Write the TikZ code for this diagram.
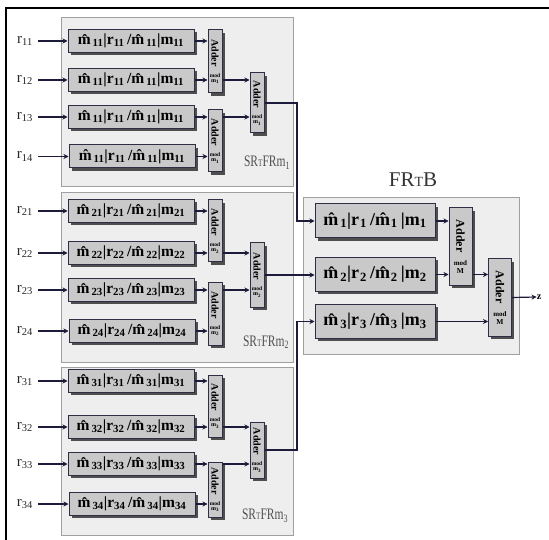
\documentclass[tikz,border=0pt]{standalone}
\usepackage{fontspec}
\setmainfont{Liberation Serif}
\usetikzlibrary{arrows.meta,shadows}
\definecolor{boxfill}{HTML}{C9C9C9}
\definecolor{edge}{HTML}{2E2E44}
\definecolor{panelfill}{HTML}{EEEEEE}
\definecolor{paneledge}{HTML}{A0A0A0}
\definecolor{wire}{HTML}{1C1C3A}
\definecolor{labgray}{HTML}{505050}
\newcommand{\mbt}[1]{m̂\kern2pt\textsubscript{#1}|r\textsubscript{#1}\,/m̂\kern2pt\textsubscript{#1}|m\textsubscript{#1}}
\newcommand{\mbf}[1]{m̂\kern2pt\textsubscript{#1}|r\kern1pt\textsubscript{#1}\,/m̂\kern1pt\textsubscript{#1}\,|m\textsubscript{#1}}
\newcommand{\addtxt}[1]{\shortstack{\rotatebox{-90}{Adder}\\[4pt]{\fontsize{5.5}{6}\selectfont mod}\\[-1pt]{\fontsize{6}{6}\selectfont m\textsubscript{#1}}}}
\newcommand{\addtxtM}{\shortstack{{\fontsize{12}{12}\selectfont\rotatebox{-90}{Adder}}\\[5pt]{\fontsize{7}{7}\selectfont mod}\\[0pt]{\fontsize{7.5}{8}\selectfont M}}}
\newcommand{\srlab}[1]{\scalebox{0.72}[1]{SR{\fontsize{10}{10}\selectfont T}FRm\textsubscript{#1}}}
\tikzset{
  panel/.style={draw=paneledge, fill=panelfill, line width=0.8pt},
  shad/.style={drop shadow={shadow xshift=2.6pt, shadow yshift=-2.6pt, fill=black!80, opacity=0.85}},
  fbox/.style={shad, draw=edge, fill=boxfill, line width=1pt, inner sep=0pt,
    minimum width=126pt, minimum height=23pt, font=\bfseries\fontsize{15.5}{15.5}\selectfont},
  frbox/.style={shad, draw=edge, fill=boxfill, line width=1pt, inner sep=0pt,
    minimum width=120pt, minimum height=34pt, font=\bfseries\fontsize{18}{18}\selectfont},
  adder/.style={shad, draw=edge, fill=boxfill, line width=1pt, inner sep=0pt,
    minimum width=14pt, font=\bfseries\fontsize{10}{10}\selectfont},
  adderM/.style={shad, draw=edge, fill=boxfill, line width=1pt, inner sep=0pt,
    minimum width=23pt, minimum height=77pt, font=\bfseries},
  inlab/.style={anchor=east, text=black!85, inner sep=0pt, font=\fontsize{15}{15}\selectfont},
  grouplab/.style={text=labgray, inner sep=0pt, font=\fontsize{16}{16}\selectfont},
  arr/.style={draw=wire, line width=1.2pt, -{Stealth[length=5pt,width=5pt]}},
  wireline/.style={draw=wire, line width=1.2pt}
}
\begin{document}
\begin{tikzpicture}[x=1pt,y=-1pt]
\useasboundingbox (0,0) rectangle (549,540);
\draw[line width=1.3pt] (6,540) -- (6,8) -- (549,8);
% panels
\draw[panel] (61,17) rectangle (293,186);
\draw[panel] (61,192) rectangle (293,362);
\draw[panel] (61,367) rectangle (293,535);
\draw[panel] (303,197) rectangle (519,354);
% group 1
\node[fbox] (b11) at (131,41) {\mbt{11}};
\node[fbox] (b12) at (131,80) {\mbt{11}};
\node[fbox] (b13) at (131,117) {\mbt{11}};
\node[fbox] (b14) at (132,156.5) {\mbt{11}};
\node[adder, minimum height=63pt] (a1A) at (215,61.5) {\addtxt{1}};
\node[adder, minimum height=62pt] (a1B) at (215,141) {\addtxt{1}};
\node[adder, minimum height=60pt] (a1F) at (257,103) {\addtxt{1}};
\node[grouplab] (s1) at (267,163) {\srlab{1}};
% group 2
\node[fbox] (b21) at (131,211) {\mbt{21}};
\node[fbox] (b22) at (131,253) {\mbt{22}};
\node[fbox] (b23) at (131,290) {\mbt{23}};
\node[fbox] (b24) at (132,331) {\mbt{24}};
\node[adder, minimum height=62pt] (a2A) at (215,231) {\addtxt{2}};
\node[adder, minimum height=63pt] (a2B) at (215,313.5) {\addtxt{2}};
\node[adder, minimum height=64pt] (a2F) at (257,275) {\addtxt{2}};
\node[grouplab] (s2) at (266,342) {\srlab{2}};
% group 3
\node[fbox] (b31) at (131,381) {\mbt{31}};
\node[fbox] (b32) at (131,427) {\mbt{32}};
\node[fbox] (b33) at (131,464) {\mbt{33}};
\node[fbox] (b34) at (132,504) {\mbt{34}};
\node[adder, minimum height=62pt] (a3A) at (215,406) {\addtxt{3}};
\node[adder, minimum height=55pt] (a3B) at (215,489.5) {\addtxt{3}};
\node[adder, minimum height=56pt] (a3F) at (257,450) {\addtxt{3}};
\node[grouplab] (s3) at (265,516) {\srlab{3}};
% inputs
\foreach \n/\t/\yy in {11/11/41,12/12/80,13/13/117,14/14/156.5,21/21/211,22/22/253,23/23/290,24/24/331,31/31/381,32/32/427,33/33/464,34/34/504}{
  \node[inlab] (l\n) at (33,\yy) {r\textsubscript{\t}};
  \draw[arr] ([xshift=5pt]l\n.east) -- (b\n.west);
}
% box -> adders
\foreach \g in {1,2,3}{
  \draw[arr] (b\g1.east) -- (b\g1.east -| a\g A.west);
  \draw[arr] (b\g2.east) -- (b\g2.east -| a\g A.west);
  \draw[arr] (b\g3.east) -- (b\g3.east -| a\g B.west);
  \draw[arr] (b\g4.east) -- (b\g4.east -| a\g B.west);
  \draw[arr] (a\g A.east |- b\g2) -- (a\g F.west |- b\g2);
  \draw[arr] (a\g B.east |- b\g3) -- (a\g F.west |- b\g3);
}
% FRTB
\node[text=black!80, inner sep=0pt, font=\fontsize{21}{21}\selectfont] (frtb) at (413,180) {FR{\fontsize{14}{14}\selectfont T}B};
\node[frbox] (f1) at (375,221) {\mbf{1}};
\node[frbox] (f2) at (375,274.5) {\mbf{2}};
\node[frbox] (f3) at (375,321.5) {\mbf{3}};
\node[adderM] (m1) at (460.5,246.5) {\addtxtM};
\node[adderM] (m2) at (500,297.5) {\addtxtM};
\node[inner sep=0pt, font=\bfseries\fontsize{10}{10}\selectfont] (z) at (539,297) {z};
% group outputs
\coordinate (c1) at (297,103);
\coordinate (c3) at (297,450);
\draw[arr] (a1F.east) -- (c1) |- (f1.west);
\draw[arr] (a2F.east) -- (a2F.east -| f2.west);
\draw[arr] (a3F.east) -- (c3) |- (f3.west);
% inside FRTB
\draw[arr] (f1.east) -- (f1.east -| m1.west);
\draw[arr] (f2.east) -- (f2.east -| m1.west);
\draw[arr] (m1.east |- f2) -- (m2.west |- f2);
\draw[arr] (f3.east) -- (f3.east -| m2.west);
\draw[arr] (m2.east) -- (z.west);
\end{tikzpicture}
\end{document}
